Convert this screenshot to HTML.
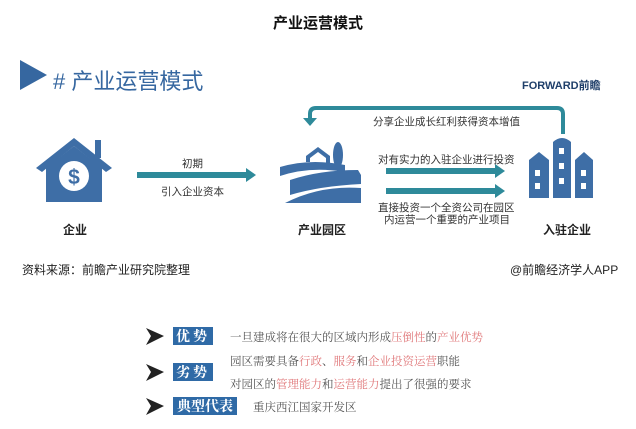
<!DOCTYPE html>
<html><head><meta charset="utf-8"><style>
body{margin:0;width:636px;height:429px;background:#fff;position:relative;overflow:hidden;font-family:"Liberation Sans","Noto Sans CJK SC",sans-serif}
.a{position:absolute;white-space:nowrap}
.s{font-size:10.5px;color:#333}
.b{font-size:12px;color:#222;font-weight:bold}
.box{position:absolute;background:#2f6aa6;color:#fff;font-weight:bold;font-size:14px;text-align:center;line-height:18px;letter-spacing:3px;font-family:"Noto Serif CJK SC",serif}
.t{position:absolute;font-size:11.5px;color:#555;font-family:"Noto Serif CJK SC",serif;white-space:nowrap}
.r{color:#e0787a}
</style></head><body>
<div class="a" style="left:0;width:636px;text-align:center;top:12px;font-size:15px;font-weight:bold;color:#111">产业运营模式</div>
<svg class="a" style="left:0;top:0" width="636" height="429">
<polygon points="20,60 47,75 20,90" fill="#3667a0"/>
<path d="M563,134 V114 Q563,108 557,108 H316 Q310,108 310,114 V119" fill="none" stroke="#2e8a9a" stroke-width="4"/>
<polygon points="303,118 317,118 310,126" fill="#2e8a9a"/>
<rect x="137" y="172" width="110" height="6" fill="#2e8a9a"/><polygon points="246,168 256,175 246,182" fill="#2e8a9a"/>
<rect x="386" y="168" width="110" height="6" fill="#2e8a9a"/><polygon points="495,164 505,171 495,178" fill="#2e8a9a"/>
<rect x="386" y="188" width="110" height="6" fill="#2e8a9a"/><polygon points="495,184 505,191 495,198" fill="#2e8a9a"/>
<g fill="#3e6ea6">
<polygon points="36,168 74,138 112,168 106,172 74,146 42,172"/>
<rect x="95" y="140" width="6" height="18"/>
<polygon points="46,168 74,146 102,168 102,202 46,202"/>
</g>
<circle cx="74" cy="176" r="15" fill="#fff"/>
<text x="74" y="184" font-size="21" font-weight="bold" text-anchor="middle" fill="#3e6ea6" font-family="Liberation Sans">$</text>
<g fill="#3e6ea6">
<path d="M280,167 Q310,158 345,165 L345,172 Q310,166 280,176 Z"/>
<path d="M290,180 Q320,170 358,170 L361,175 L361,184 Q320,186 290,195 Z"/>
<path d="M285,203 Q320,185 361,188 L361,203 Z"/>
<path d="M306,162 L306,156 L318,147 L330,156 L330,166 L326,166 L326,158 L318,152 L310,158 L310,162 Z"/>
<ellipse cx="338" cy="155" rx="5" ry="13"/><rect x="337" y="160" width="2.5" height="12"/>
</g>
<g fill="#3e6ea6">
<path d="M529,160 L539,152 L549,160 L549,198 L529,198 Z"/>
<path d="M553,142 Q562,134 571,142 L571,198 L553,198 Z"/>
<path d="M575,160 L584,152 L593,160 L593,198 L575,198 Z"/>
</g>
<g fill="#fff">
<rect x="535" y="170" width="5" height="6"/><rect x="535" y="183" width="5" height="6"/>
<rect x="559" y="148" width="5" height="6"/><rect x="559" y="163" width="5" height="6"/><rect x="559" y="178" width="5" height="6"/>
<rect x="581" y="170" width="5" height="6"/><rect x="581" y="183" width="5" height="6"/>
</g>
<g fill="#222">
<polygon points="146,328 164,336 146,345 151,336"/>
<polygon points="146,364 164,372 146,381 151,372"/>
<polygon points="146,398 164,406 146,415 151,406"/>
</g>
</svg>
<div class="a" style="left:53px;top:64px;font-size:22px;color:#3667a0">#&nbsp;产业运营模式</div>
<div class="a" style="left:522px;top:77px;font-size:11px;font-weight:bold;color:#1f3f6a">FORWARD前瞻</div>
<div class="a s" style="left:373px;top:114px">分享企业成长红利获得资本增值</div>
<div class="a s" style="left:182px;top:156px">初期</div>
<div class="a s" style="left:161px;top:184px">引入企业资本</div>
<div class="a s" style="left:378px;top:152px">对有实力的入驻企业进行投资</div>
<div class="a s" style="left:378px;top:200px">直接投资一个全资公司在园区</div>
<div class="a s" style="left:384px;top:212px">内运营一个重要的产业项目</div>
<div class="a b" style="left:63px;top:221px">企业</div>
<div class="a b" style="left:298px;top:221px">产业园区</div>
<div class="a b" style="left:543px;top:221px">入驻企业</div>
<div class="a" style="left:22px;top:261px;font-size:12px;color:#222">资料来源：前瞻产业研究院整理</div>
<div class="a" style="left:510px;top:261px;font-size:12px;color:#222">@前瞻经济学人APP</div>
<div class="box" style="left:173px;top:327px;width:40px;height:18px">优势</div>
<div class="box" style="left:173px;top:363px;width:40px;height:18px">劣势</div>
<div class="box" style="left:173px;top:397px;width:64px;height:18px;letter-spacing:0">典型代表</div>
<div class="t" style="left:230px;top:329px">一旦建成将在很大的区域内形成<span class="r">压倒性</span>的<span class="r">产业优势</span></div>
<div class="t" style="left:230px;top:353px">园区需要具备<span class="r">行政</span>、<span class="r">服务</span>和<span class="r">企业投资运营</span>职能</div>
<div class="t" style="left:230px;top:376px">对园区的<span class="r">管理能力</span>和<span class="r">运营能力</span>提出了很强的要求</div>
<div class="t" style="left:253px;top:399px">重庆西江国家开发区</div>
</body></html>
